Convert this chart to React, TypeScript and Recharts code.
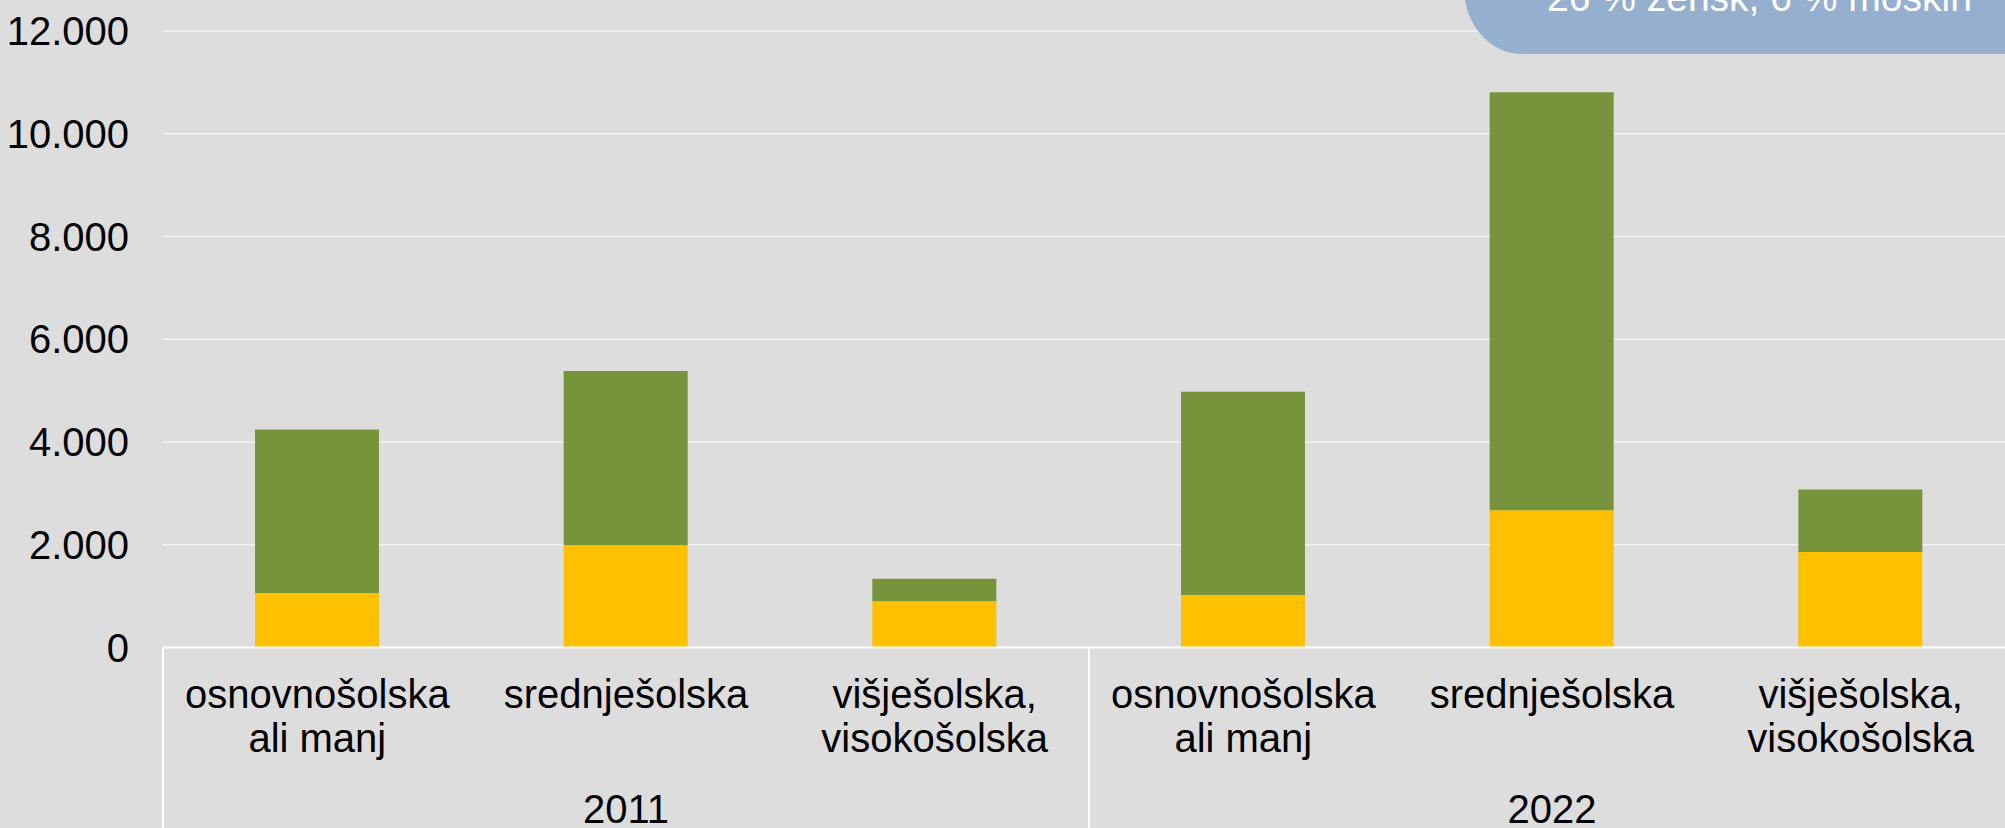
import React from 'react';
import { BarChart, Bar, XAxis, YAxis, CartesianGrid } from 'recharts';

// values (stacked: yellow at the bottom, green on top)
const CATEGORY_IDS = ['2011-osn', '2011-sre', '2011-vis', '2022-osn', '2022-sre', '2022-vis'];
const CATEGORY_LINES = [
  ['osnovnošolska', 'ali manj'],
  ['srednješolska'],
  ['višješolska,', 'visokošolska'],
  ['osnovnošolska', 'ali manj'],
  ['srednješolska'],
  ['višješolska,', 'visokošolska'],
];
const YEARS = ['2011', '2022'];
const YELLOW_VALUES = [1060, 1990, 900, 1020, 2670, 1860];
const GREEN_VALUES = [3185, 3390, 440, 3960, 8140, 1215];
const Y_TICKS = [0, 2000, 4000, 6000, 8000, 10000, 12000];
const CALLOUT_TEXT = '26 % žensk, 6 % moških';

const FONT = '"Liberation Sans", Arial, sans-serif';
const BG = '#DDDDDD';

const CHART_W = 2040;
const CHART_H = 860;
const Y_AXIS_W = 163;
const MARGIN_RIGHT = 25;
const BAND = (CHART_W - Y_AXIS_W - MARGIN_RIGHT) / CATEGORY_IDS.length;

const data = CATEGORY_IDS.map((id, i) => ({
  id,
  yellow: YELLOW_VALUES[i],
  green: GREEN_VALUES[i],
}));

const fmt = (v: number) => String(v).replace(/\B(?=(\d{3})+(?!\d))/g, '.');

const CategoryTick = (props: any) => {
  const { x, y, index } = props;
  const lines = CATEGORY_LINES[index] || [];
  const groupSize = CATEGORY_IDS.length / YEARS.length;
  const posInGroup = index % groupSize;
  return (
    <g>
      {lines.map((ln, k) => (
        <text key={k} x={x} y={y + 60 + k * 44.5} textAnchor="middle" fontSize={40} fontFamily={FONT} fill="#000">
          {ln}
        </text>
      ))}
      {posInGroup === 1 && (
        <text x={x} y={y + 175} textAnchor="middle" fontSize={40} fontFamily={FONT} fill="#000">
          {YEARS[Math.floor(index / groupSize)]}
        </text>
      )}
      {posInGroup === 0 && (
        <line x1={x - BAND / 2} x2={x - BAND / 2} y1={y} y2={y + 220} stroke="#fff" strokeWidth={2} />
      )}
    </g>
  );
};

export default function App() {
  return (
    <div style={{ position: 'fixed', left: 0, top: 0, width: 2005, height: 828, overflow: 'hidden', background: BG }}>
      <BarChart
        width={CHART_W}
        height={CHART_H}
        data={data}
        margin={{ top: 31, right: MARGIN_RIGHT, left: 0, bottom: 0 }}
        barSize={124}
      >
        <CartesianGrid horizontal vertical={false} stroke="#F3F3F3" strokeWidth={1.5} />
        <XAxis
          dataKey="id"
          height={212.5}
          interval={0}
          tickSize={0}
          tickMargin={0}
          axisLine={{ stroke: '#fff', strokeWidth: 2 }}
          tickLine={false}
          tick={<CategoryTick />}
        />
        <YAxis
          width={Y_AXIS_W}
          domain={[0, 12000]}
          ticks={Y_TICKS}
          tickFormatter={fmt}
          axisLine={false}
          tickLine={false}
          tickSize={0}
          tickMargin={34}
          tick={{ fontSize: 40, fontFamily: FONT, fill: '#000' }}
        />
        <Bar dataKey="yellow" stackId="a" fill="#FFC000" isAnimationActive={false} />
        <Bar dataKey="green" stackId="a" fill="#77933C" isAnimationActive={false} />
      </BarChart>
      <svg width={2005} height={828} style={{ position: 'absolute', left: 0, top: 0, pointerEvents: 'none' }}>
        <path d="M1464,-12 L2010,-12 L2010,54 L1522,54 A58,66 0 0 1 1464,-12 Z" fill="#95B0CF" />
        <text x={1547} y={11} fontSize={39} fontFamily={FONT} fill="#fff">
          {CALLOUT_TEXT}
        </text>
      </svg>
    </div>
  );
}
